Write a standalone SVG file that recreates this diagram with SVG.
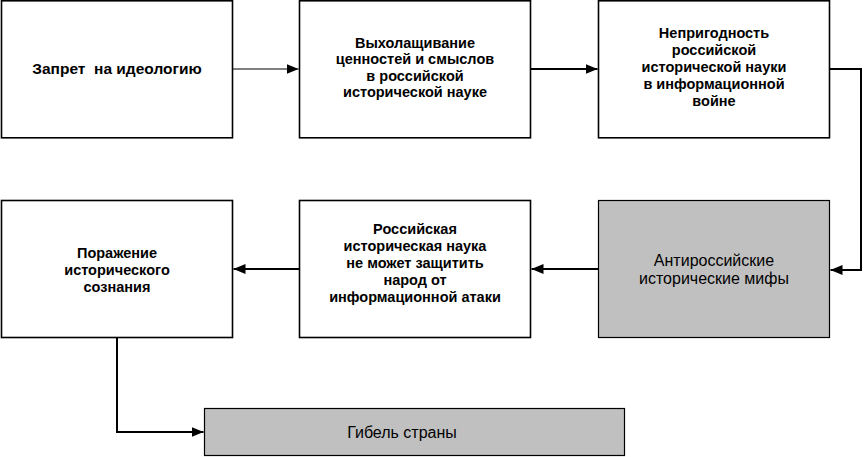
<svg xmlns="http://www.w3.org/2000/svg" width="864" height="457" viewBox="0 0 864 457">
<style>
.box{fill:#fff;stroke:#000;stroke-width:1.6}
.gray{fill:#c0c0c0;stroke:#000;stroke-width:1.2}
.b{font-family:"Liberation Sans",Arial,sans-serif;font-weight:bold;font-size:14.5px;text-anchor:middle;fill:#000}
.r{font-family:"Liberation Sans",Arial,sans-serif;font-size:16px;text-anchor:middle;fill:#000}
.c{fill:none;stroke:#000;stroke-width:2}
.c1{fill:none;stroke:#000;stroke-width:1}
</style>
<defs>
<marker id="ah" viewBox="0 0 12 10" refX="12" refY="5" markerWidth="12" markerHeight="10" markerUnits="userSpaceOnUse" orient="auto">
<path d="M0,0 L12,5 L0,10 Z" fill="#000"/>
</marker>
</defs>
<rect width="864" height="457" fill="#fff"/>
<g id="n1">
<rect class="box" x="1.5" y="0.8" width="231" height="137"/>
<text class="b" x="117" y="74" style="font-size:15.5px;white-space:pre" xml:space="preserve">Запрет  на идеологию</text>
</g>
<g id="n2">
<rect class="box" x="299.5" y="0.8" width="231" height="137"/>
<text class="b" x="415" y="48">Выхолащивание</text>
<text class="b" x="415" y="64">ценностей и смыслов</text>
<text class="b" x="415" y="81">в российской</text>
<text class="b" x="415" y="97">исторической науке</text>
</g>
<g id="n3">
<rect class="box" x="598.5" y="0.8" width="231" height="137"/>
<text class="b" x="714" y="38">Непригодность</text>
<text class="b" x="714" y="55">российской</text>
<text class="b" x="714" y="72">исторической науки</text>
<text class="b" x="714" y="89">в информационной</text>
<text class="b" x="714" y="106">войне</text>
</g>
<g id="n4">
<rect class="gray" x="598.5" y="200.5" width="231" height="137"/>
<text class="r" x="714" y="266">Антироссийские</text>
<text class="r" x="714" y="284">исторические мифы</text>
</g>
<g id="n5">
<rect class="box" x="299.5" y="200.5" width="231" height="137"/>
<text class="b" x="415" y="234">Российская</text>
<text class="b" x="415" y="251">историческая наука</text>
<text class="b" x="415" y="268">не может защитить</text>
<text class="b" x="415" y="285">народ от</text>
<text class="b" x="415" y="302">информационной атаки</text>
</g>
<g id="n6">
<rect class="box" x="1.5" y="200.5" width="231" height="137"/>
<text class="b" x="117" y="258">Поражение</text>
<text class="b" x="117" y="275">исторического</text>
<text class="b" x="117" y="292">сознания</text>
</g>
<g id="n7">
<rect class="gray" x="204.5" y="408.5" width="420" height="47"/>
<text class="r" x="402" y="438">Гибель страны</text>
</g>
<g id="connectors">
<path class="c1" d="M233,69 H298.5" marker-end="url(#ah)"/>
<path class="c" d="M531,69 H597.5" marker-end="url(#ah)"/>
<path class="c" d="M830,69 H861 V270 H830.5" marker-end="url(#ah)"/>
<path class="c" d="M598,269 H531.5" marker-end="url(#ah)"/>
<path class="c" d="M299,269 H233.5" marker-end="url(#ah)"/>
<path class="c" d="M117,338 V432 H203.5" marker-end="url(#ah)"/>
</g>
</svg>
